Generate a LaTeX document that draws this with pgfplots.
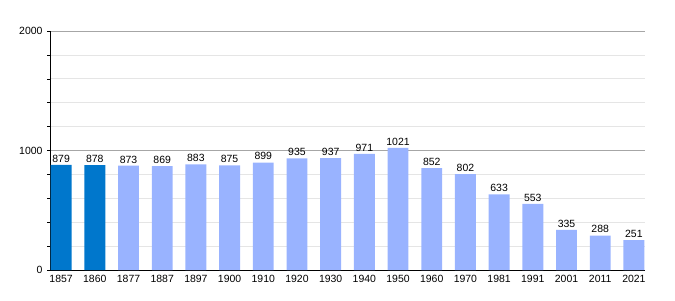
\documentclass[border=0pt]{standalone}
\usepackage{pgfplots}
\pgfplotsset{compat=1.18}
\usepackage{fontspec}
\setmainfont{Liberation Sans}
\definecolor{darkb}{HTML}{0077CC}
\definecolor{lightb}{HTML}{99B3FF}
\begin{document}
\begin{tikzpicture}[x=1bp,y=1bp]
\path[use as bounding box] (0,0) rectangle (675,300);
\begin{axis}[
  at={(50bp,30bp)}, anchor=south west,
  scale only axis, width=595bp, height=239bp,
  xmin=-0.33, xmax=17.33, ymin=0, ymax=2000,
  axis x line*=bottom, axis y line*=left,
  axis line style={black, line width=0.8pt},
  xtick={0,...,17},
  xticklabels={1857,1860,1877,1887,1897,1900,1910,1920,1930,1940,1950,1960,1970,1981,1991,2001,2011,2021},
  major x tick style={draw=none},
  ytick={0,1000,2000},
  minor ytick={200,400,600,800,1200,1400,1600,1800},
  tick align=outside,
  major tick length=3bp, minor tick length=3bp,
  tick style={black, line width=0.6pt},
  ymajorgrids, yminorgrids,
  major grid style={color=black!35, line width=0.8pt},
  minor grid style={color=black!10, line width=0.8pt},
  tick label style={font=\fontsize{10.5}{12}\selectfont},
  /pgf/number format/assume math mode=true,
  /pgf/number format/set thousands separator={},
  xticklabel style={yshift=1bp},
  yticklabel style={xshift=-1bp},
  nodes near coords,
  every node near coord/.append style={font=\fontsize{10.5}{12}\selectfont, yshift=-1bp},
  clip=false,
]
\addplot[ybar, bar width=0.62, fill=darkb, draw=none] coordinates {(0,879) (1,878)};
\addplot[ybar, bar width=0.62, fill=lightb, draw=none] coordinates {
(2,873) (3,869) (4,883) (5,875) (6,899) (7,935) (8,937) (9,971) (10,1021)
(11,852) (12,802) (13,633) (14,553) (15,335) (16,288) (17,251)};
\end{axis}
\end{tikzpicture}
\end{document}
